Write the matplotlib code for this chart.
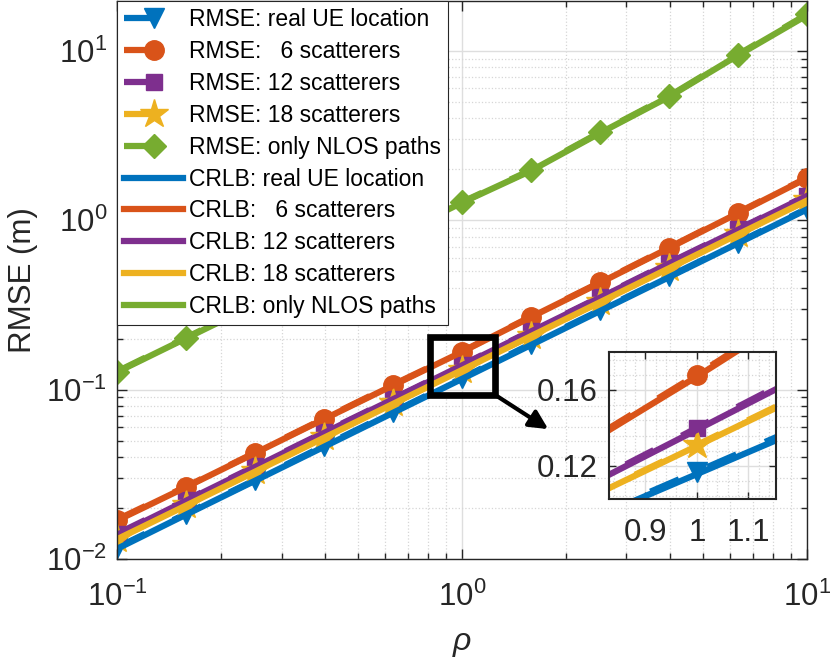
import numpy as np
import matplotlib
matplotlib.use("Agg")
from matplotlib import pyplot as plt
from matplotlib.patches import Rectangle
from matplotlib.ticker import FixedLocator, MultipleLocator, LogLocator, NullFormatter

plt.rcParams['font.family'] = ['Liberation Sans', 'DejaVu Sans']
plt.rcParams['mathtext.fontset'] = 'custom'
plt.rcParams['mathtext.rm'] = 'Liberation Sans'
plt.rcParams['mathtext.it'] = 'Liberation Sans:italic'

# data
rho = [0.1, 0.1585, 0.2512, 0.3981, 0.631, 1.0, 1.585, 2.512, 3.981, 6.31, 10.0]

rmse_real = [0.0117, 0.0185, 0.0293, 0.0466, 0.0738, 0.117, 0.186, 0.294, 0.466, 0.738, 1.17]
rmse_6 = [0.0171, 0.0268, 0.0425, 0.0675, 0.107, 0.168, 0.270, 0.43, 0.69, 1.11, 1.78]
rmse_12 = [0.0141, 0.0223, 0.0353, 0.056, 0.0885, 0.140, 0.222, 0.352, 0.56, 0.885, 1.40]
rmse_18 = [0.0132, 0.0208, 0.0330, 0.0523, 0.0829, 0.131, 0.208, 0.330, 0.523, 0.829, 1.31]
rmse_nlos = [0.128, 0.203, 0.32, 0.51, 0.81, 1.28, 1.98, 3.3, 5.4, 9.5, 16.4]

crlb_real = [0.0115, 0.0183, 0.0290, 0.0460, 0.0730, 0.1157, 0.1835, 0.291, 0.461, 0.731, 1.158]
crlb_6 = [0.0169, 0.0266, 0.0422, 0.0670, 0.106, 0.167, 0.268, 0.427, 0.685, 1.10, 1.77]
crlb_12 = [0.0139, 0.0221, 0.0350, 0.0555, 0.0878, 0.139, 0.2205, 0.349, 0.555, 0.878, 1.39]
crlb_18 = [0.0131, 0.0207, 0.0328, 0.0520, 0.0824, 0.1305, 0.207, 0.328, 0.520, 0.824, 1.305]
crlb_nlos = [0.127, 0.201, 0.318, 0.505, 0.80, 1.27, 1.96, 3.27, 5.35, 9.4, 16.2]

rmse_all = [rmse_real, rmse_6, rmse_12, rmse_18, rmse_nlos]
crlb_all = [crlb_real, crlb_6, crlb_12, crlb_18, crlb_nlos]
rmse_labels = ["RMSE: real UE location", "RMSE:   6 scatterers", "RMSE: 12 scatterers",
               "RMSE: 18 scatterers", "RMSE: only NLOS paths"]
crlb_labels = ["CRLB: real UE location", "CRLB:   6 scatterers", "CRLB: 12 scatterers",
               "CRLB: 18 scatterers", "CRLB: only NLOS paths"]
colors = ["#0072BD", "#D95319", "#7E2F8E", "#EDB120", "#77AC30"]
markers = ["v", "o", "s", "*", "D"]
msizes = [15, 14, 11, 21, 12]

lw = 4.5
dash = (0, (5, 5))
txt = "#262626"

fig = plt.figure(figsize=(8.3, 6.64), dpi=100)
ax = fig.add_axes([0.141, 0.158, 0.831, 0.8405])


def draw(a):
    for y, lab, c, m, s in zip(rmse_all, rmse_labels, colors, markers, msizes):
        a.plot(rho, y, linestyle=dash, lw=lw, color=c, marker=m, ms=s, label=lab)
    for y, lab, c in zip(crlb_all, crlb_labels, colors):
        a.plot(rho, y, '-', lw=lw, color=c, label=lab)


draw(ax)
ax.set_xscale('log')
ax.set_yscale('log')
ax.set_xlim(0.1, 10)
ax.set_ylim(0.01, 19.7)
ax.xaxis.set_major_locator(LogLocator(base=10, numticks=10))
ax.yaxis.set_major_locator(LogLocator(base=10, numticks=10))
ax.xaxis.set_minor_locator(LogLocator(base=10, subs=np.arange(2, 10), numticks=20))
ax.yaxis.set_minor_locator(LogLocator(base=10, subs=np.arange(2, 10), numticks=20))
ax.xaxis.set_minor_formatter(NullFormatter())
ax.yaxis.set_minor_formatter(NullFormatter())
ax.grid(True, which='major', color='#dedede', lw=1.0, ls='-')
ax.grid(True, which='minor', color='#d6d6d6', lw=0.9, ls=':')
ax.set_axisbelow(True)
ax.tick_params(which='both', direction='in', top=True, right=True, colors=txt,
               labelsize=22.5, width=1.0)
ax.tick_params(which='major', length=7)
ax.tick_params(which='minor', length=4)
ax.tick_params(axis='x', pad=16)
ax.tick_params(axis='y', pad=7)
for sp in ax.spines.values():
    sp.set_color(txt)
    sp.set_linewidth(1.0)

ax.set_xlabel(r'$\rho$', fontsize=23, color=txt, labelpad=12)
ax.set_ylabel('RMSE (m)', fontsize=22.5, color=txt, labelpad=6)

leg = ax.legend(loc='upper left', bbox_to_anchor=(0, 1), borderaxespad=0,
                fontsize=16.5, handlelength=2.6, handletextpad=0.25,
                labelspacing=0.39, borderpad=0.3, fancybox=False, framealpha=1,
                edgecolor=txt)
leg.get_frame().set_linewidth(0.8)
for t in leg.get_texts():
    t.set_color('black')

# zoom box and arrow
ax.add_patch(Rectangle((0.81, 0.0935), 1.245 - 0.81, 0.205 - 0.0935, fill=False,
                       lw=4.8, ec='k', zorder=10))
ax.annotate('', xy=(1.78, 0.0585), xytext=(1.245, 0.0935),
            arrowprops=dict(arrowstyle='-|>', lw=3, color='k', mutation_scale=28,
                            shrinkA=0, shrinkB=0), zorder=10)

# inset
axins = fig.add_axes([0.734, 0.2485, 0.2012, 0.2215])
draw(axins)
axins.set_xlim(0.83, 1.154)
axins.set_ylim(0.1026, 0.18)
axins.xaxis.set_major_locator(FixedLocator([0.9, 1.0, 1.1]))
axins.yaxis.set_major_locator(FixedLocator([0.12, 0.16]))
axins.set_xticklabels(['0.9', '1', '1.1'])
axins.set_yticklabels(['0.12', '0.16'])
axins.xaxis.set_minor_locator(MultipleLocator(0.02))
axins.yaxis.set_minor_locator(MultipleLocator(0.008))
axins.grid(True, which='major', color='#dedede', lw=1.0, ls='-')
axins.grid(True, which='minor', color='#d6d6d6', lw=0.9, ls=':')
axins.set_axisbelow(True)
axins.tick_params(which='both', direction='in', top=True, right=True, colors=txt,
                  labelsize=22.5, width=1.0)
axins.tick_params(which='major', length=5)
axins.tick_params(which='minor', length=0)
axins.tick_params(axis='x', pad=14)
axins.tick_params(axis='y', pad=8)
for sp in axins.spines.values():
    sp.set_color(txt)
    sp.set_linewidth(1.5)

fig.savefig("out.png", dpi=100)
